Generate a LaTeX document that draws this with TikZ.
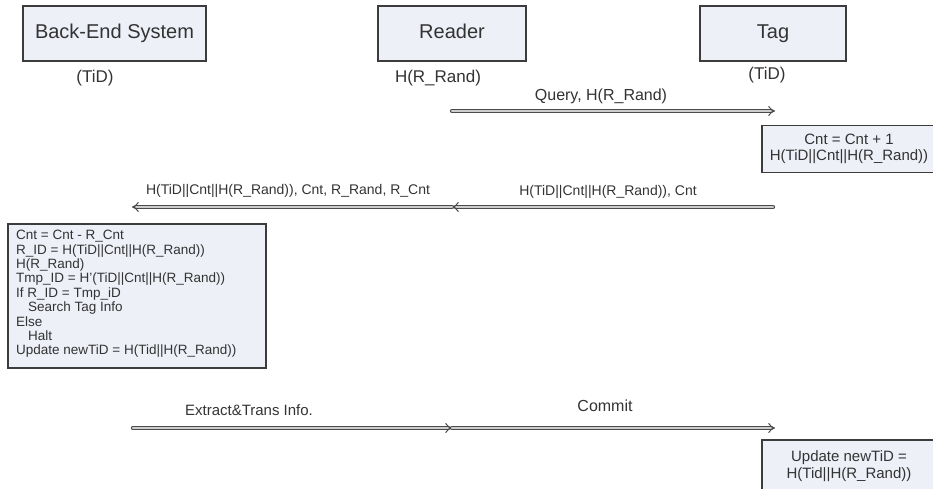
\documentclass[tikz,border=0pt]{standalone}
\usepackage{fontspec}
\setmainfont{Liberation Sans}
\usetikzlibrary{arrows.meta}

\definecolor{boxfill}{HTML}{EEF0F8}
\definecolor{boxline}{HTML}{3C3C3C}
\definecolor{ink}{HTML}{333333}
\definecolor{shaftfill}{HTML}{CDCDCD}
\definecolor{shaftrim}{HTML}{4A4A4A}

\newcommand\fsz[2]{\fontsize{#1}{#2}\selectfont}

\begin{document}
\begin{tikzpicture}[x=1pt,y=-1pt,
  every node/.style={text=ink, inner sep=0pt},
  actor/.style={draw=boxline, fill=boxfill, line width=1.1pt,
    minimum height=55pt, text height=14.5pt, text depth=4pt,
    font=\fsz{20}{24}},
  calcbox/.style={draw=boxline, fill=boxfill, line width=1.1pt},
  msglabel/.style={font=\fsz{14}{16}},
  varlabel/.style={font=\fsz{17}{20}},
  msg/.style={draw=shaftrim, line width=1pt, double=shaftfill,
    double distance=2.4pt, line cap=round, -{Implies}}]

\clip (0,0) rectangle (933,488);
\fill[white] (0,0) rectangle (933,488);

% participants
\node[actor, minimum width=183pt] (be)  at (114.5,33.5) {Back-End System};
\node[actor, minimum width=148pt] (rd)  at (452,33.5)   {Reader};
\node[actor, minimum width=146pt] (tg)  at (773,33.5)   {Tag};

\node[varlabel] (beVar) at (95,78)  {(TiD)};
\node[varlabel] (rdVar) at (438,78) {H(R\_Rand)};
\node[varlabel] (tgVar) at (767,75) {(TiD)};

% message end points on the three columns
\coordinate (rd1) at (452,111);
\coordinate (tg1) at (775,111);
\coordinate (tg2) at (773,207);
\coordinate (rd2) at (452,207);
\coordinate (be2) at (132,207);
\coordinate (be3) at (133,428);
\coordinate (rd3) at (452,428);
\coordinate (tg3) at (775,428);

% 1: query
\draw[msg] (rd1) -- (tg1);
\node[font=\fsz{16}{18}] (q) at (601,96) {Query, H(R\_Rand)};

% tag computation
\node[calcbox, minimum width=174pt, minimum height=47pt, align=center,
      font=\fsz{15}{16.5}] (tgCalc) at (849,149)
  {Cnt = Cnt + 1\\H(TiD||Cnt||H(R\_Rand))};

% 2: tag -> reader -> back-end
\draw[msg] (tg2) -- (rd2);
\draw[msg] (rd2) -- (be2);
\node[msglabel] (m2) at (608,192) {H(TiD||Cnt||H(R\_Rand)), Cnt};
\node[msglabel] (m3) at (288,191) {H(TiD||Cnt||H(R\_Rand)), Cnt, R\_Rand, R\_Cnt};

% back-end verification
\node[calcbox, minimum width=258pt, minimum height=144pt] (beCalc) at (137,296) {};
\node[anchor=north west, align=left, font=\fsz{13.5}{14.4}] (beText) at (16,230)
  {Cnt = Cnt - R\_Cnt\\
   R\_ID = H(TiD||Cnt||H(R\_Rand))\\
   H(R\_Rand)\\
   Tmp\_ID = H'(TiD||Cnt||H(R\_Rand))\\
   If R\_ID = Tmp\_iD\\
   \hspace*{12pt}Search Tag Info\\
   Else\\
   \hspace*{12pt}Halt\\
   Update newTiD = H(Tid||H(R\_Rand))};

% 3: back-end -> reader -> tag
\draw[msg] (be3) -- (rd3);
\draw[msg] (rd3) -- (tg3);
\node[font=\fsz{15}{18}] (ex) at (249,410) {Extract\&Trans Info.};
\node[font=\fsz{16}{18}] (cm) at (605,406) {Commit};

% tag update
\node[calcbox, minimum width=174pt, minimum height=52pt, align=center,
      font=\fsz{15}{16.5}] (tgUpd) at (849,466)
  {Update newTiD =\\H(Tid||H(R\_Rand))};

\end{tikzpicture}
\end{document}
